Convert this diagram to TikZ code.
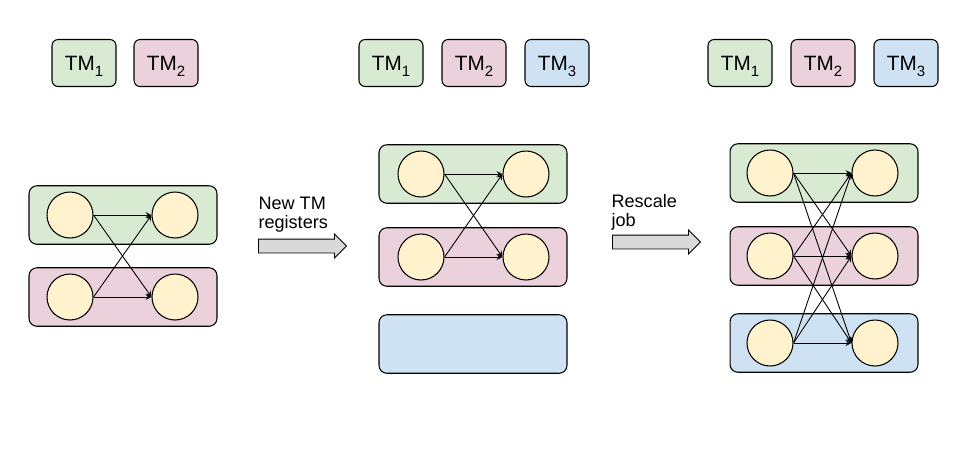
\documentclass[tikz,border=0pt]{standalone}
\usepackage{fontspec}
\setmainfont{Liberation Sans}
\usetikzlibrary{arrows,shapes.arrows}

\definecolor{tmgreen}{HTML}{D9EAD3}
\definecolor{tmpink}{HTML}{EAD1DC}
\definecolor{tmblue}{HTML}{CFE2F3}
\definecolor{taskfill}{HTML}{FFF2CC}
\definecolor{arrowgray}{HTML}{D9D9D9}

\newcommand{\tmlabel}[1]{TM\raisebox{-3.7pt}[0pt][0pt]{\fontsize{8.5}{9}\selectfont #1}}

\begin{document}
\begin{tikzpicture}[x=0.02cm,y=-0.02cm,line width=0.6pt,
	tm/.style={draw,rounded corners=3.5pt,minimum width=1.28cm,minimum height=0.94cm,
		inner sep=0,font=\fontsize{11.8}{13}\selectfont},
	slot/.style={draw,rounded corners=4.5pt,minimum width=3.76cm,minimum height=1.17cm,inner sep=0},
	task/.style={draw,circle,fill=taskfill,minimum size=0.92cm,inner sep=0},
	blockarrow/.style={draw,fill=arrowgray,single arrow,minimum height=1.76cm,
		inner sep=0,inner ysep=0.13cm,single arrow head extend=0.1cm,line width=0.5pt},
	caption/.style={anchor=north west,align=left,inner sep=0,
		font=\fontsize{10.3}{10.5}\selectfont},
	edge/.style={-stealth,line width=0.5pt}]
	\useasboundingbox (0,0) rectangle (960,464);

	% before
	\node[tm,fill=tmgreen] (tm1a) at (84,63) {\tmlabel{1}};
	\node[tm,fill=tmpink] (tm2a) at (166,63) {\tmlabel{2}};
	\node[slot,fill=tmgreen] (ga) at (123,215) {};
	\node[slot,fill=tmpink] (pa) at (123,297) {};
	\node[task] (a1) at (70,215) {};
	\node[task] (a2) at (70,297) {};
	\node[task] (b1) at (175,215) {};
	\node[task] (b2) at (175,297) {};
	\draw[edge] (a1.east) -- (b1.west);
	\draw[edge] (a1.east) -- (b2.west);
	\draw[edge] (a2.east) -- (b1.west);
	\draw[edge] (a2.east) -- (b2.west);

	\node[caption] (newtm) at (258,197) {New TM\\registers};
	\node[blockarrow] (grow) at (299,246) {};

	% new TM registered
	\node[tm,fill=tmgreen] (tm1b) at (391,63) {\tmlabel{1}};
	\node[tm,fill=tmpink] (tm2b) at (474,63) {\tmlabel{2}};
	\node[tm,fill=tmblue] (tm3b) at (557,63) {\tmlabel{3}};
	\node[slot,fill=tmgreen] (gb) at (473,174) {};
	\node[slot,fill=tmpink] (pb) at (473,257) {};
	\node[slot,fill=tmblue] (bb) at (473,344) {};
	\node[task] (c1) at (421,174) {};
	\node[task] (c2) at (421,257) {};
	\node[task] (d1) at (526,174) {};
	\node[task] (d2) at (526,257) {};
	\draw[edge] (c1.east) -- (d1.west);
	\draw[edge] (c1.east) -- (d2.west);
	\draw[edge] (c2.east) -- (d1.west);
	\draw[edge] (c2.east) -- (d2.west);

	\node[caption] (rescale) at (611,194) {Rescale\\job};
	\node[blockarrow] (scale) at (653,242) {};

	% after rescaling
	\node[tm,fill=tmgreen] (tm1c) at (740,63) {\tmlabel{1}};
	\node[tm,fill=tmpink] (tm2c) at (823,63) {\tmlabel{2}};
	\node[tm,fill=tmblue] (tm3c) at (906,63) {\tmlabel{3}};
	\node[slot,fill=tmgreen] (gc) at (824,173) {};
	\node[slot,fill=tmpink] (pc) at (824,256) {};
	\node[slot,fill=tmblue] (bc) at (824,343) {};
	\node[task] (e1) at (770,173) {};
	\node[task] (e2) at (770,256) {};
	\node[task] (e3) at (770,343) {};
	\node[task] (f1) at (875,173) {};
	\node[task] (f2) at (875,256) {};
	\node[task] (f3) at (875,343) {};
	\foreach \s in {1,2,3}
		\foreach \t in {1,2,3}
			\draw[edge] (e\s.east) -- (f\t.west);
\end{tikzpicture}
\end{document}
